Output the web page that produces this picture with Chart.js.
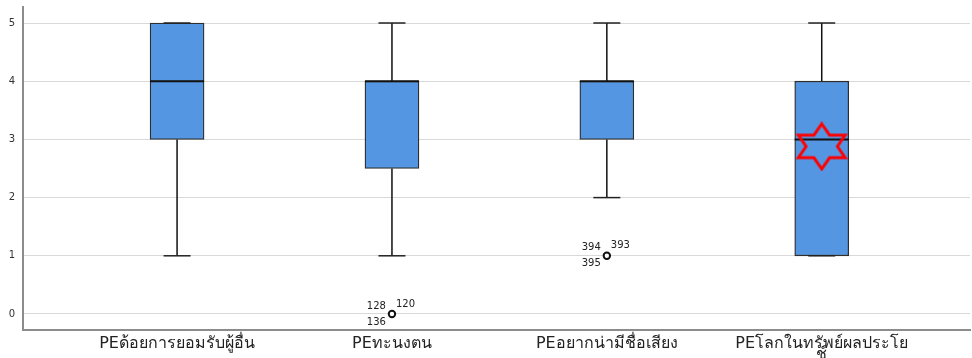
<!DOCTYPE html>
<html>
<head>
<meta charset="utf-8">
<script src="https://cdn.jsdelivr.net/npm/chart.js@4"></script>
<style>
    html, body { margin: 0; padding: 0; background: #ffffff; }
    #wrap { width: 972px; height: 358px; }
</style>
</head>
<body>
<div id="wrap"><canvas id="boxChart" width="972" height="358"></canvas></div>
<script>
const categories = [
    "PEด้อยการยอมรับผู้อื่น",
    "PEทะนงตน",
    "PEอยากน่ามีชื่อเสียง",
    ["PEโลกในทรัพย์ผลประโย", "ช์"],
];
const yTicks = [0, 1, 2, 3, 4, 5];
const q1 = [3, 2.5, 3, 1];
const q3 = [5, 4, 4, 4];
const medians = [4, 4, 4, 3];
const whiskerLow = [1, 1, 2, 1];
const whiskerHigh = [5, 5, 5, 5];
const outlierValues = [[], [0], [1], []];
const outlierIds = [[], ["128", "120", "136"], ["394", "393", "395"], []];
const starCategory = [4];
const starValue = [2.88];

const positions = categories.map((_, idx) => idx + 1);

function makeStar() {
    const c = document.createElement("canvas");
    c.width = 54;
    c.height = 50;
    const g = c.getContext("2d");
    const cx = 27, cy = 25, rx = 27, ry = 22.5;
    g.strokeStyle = "#ff0000";
    g.lineWidth = 3;
    g.lineJoin = "miter";
    g.beginPath();
    for (let i = 0; i < 12; i++) {
        const ang = -Math.PI / 2 + i * Math.PI / 6;
        const r = i % 2 === 0 ? 1 : 0.58;
        const px = cx + Math.cos(ang) * rx * r;
        const py = cy + Math.sin(ang) * ry * r;
        if (i === 0) g.moveTo(px, py); else g.lineTo(px, py);
    }
    g.closePath();
    g.stroke();
    return c;
}

const whiskerPoints = [];
positions.forEach((x, idx) => {
    whiskerPoints.push({ x, y: whiskerLow[idx] }, { x, y: q1[idx] }, { x, y: null });
    whiskerPoints.push({ x, y: q3[idx] }, { x, y: whiskerHigh[idx] }, { x, y: null });
});

const capPoints = [];
positions.forEach((x, idx) => {
    capPoints.push({ x, y: whiskerLow[idx] }, { x, y: whiskerHigh[idx] });
});

const outlierPoints = [];
positions.forEach((x, idx) => {
    outlierValues[idx].forEach((v) => outlierPoints.push({ x, y: v, ids: outlierIds[idx] }));
});

const outlierLabelPlugin = {
    id: "outlierLabels",
    afterDatasetsDraw(chart) {
        const { ctx, scales } = chart;
        ctx.save();
        ctx.font = "10px 'DejaVu Sans', Arial, sans-serif";
        ctx.fillStyle = "#222";
        ctx.textBaseline = "middle";
        for (const p of outlierPoints) {
            const px = scales.x.getPixelForValue(p.x);
            const py = scales.y.getPixelForValue(p.y);
            ctx.textAlign = "right";
            ctx.fillText(p.ids[0], px - 6, py - 8);
            ctx.fillText(p.ids[2], px - 6, py + 8);
            ctx.textAlign = "left";
            ctx.fillText(p.ids[1], px + 4, py - 10);
        }
        ctx.restore();
    },
};

new Chart(document.getElementById("boxChart").getContext("2d"), {
    type: "bar",
    data: {
        datasets: [
            {
                type: "bar",
                data: positions.map((x, idx) => ({ x, y: [q1[idx], q3[idx]] })),
                backgroundColor: "#5596e3",
                borderColor: "#2e2e2e",
                borderWidth: 1.3,
                borderSkipped: false,
                barThickness: 54,
                order: 5,
            },
            {
                type: "line",
                data: whiskerPoints,
                borderColor: "#111111",
                borderWidth: 1.5,
                pointRadius: 0,
                spanGaps: false,
                order: 4,
            },
            {
                type: "scatter",
                data: capPoints,
                pointStyle: "line",
                pointRadius: 13.5,
                borderColor: "#222222",
                borderWidth: 1.5,
                order: 3,
            },
            {
                type: "scatter",
                data: positions.map((x, idx) => ({ x, y: medians[idx] })),
                pointStyle: "line",
                pointRadius: 27,
                borderColor: "#111111",
                borderWidth: 2,
                order: 2,
            },
            {
                type: "scatter",
                data: outlierPoints,
                pointStyle: "circle",
                pointRadius: 3.2,
                backgroundColor: "#ffffff",
                borderColor: "#111111",
                borderWidth: 2,
                order: 1,
            },
            {
                type: "scatter",
                data: starCategory.map((x, idx) => ({ x, y: starValue[idx] })),
                pointStyle: makeStar(),
                order: 0,
            },
        ],
    },
    options: {
        responsive: false,
        animation: false,
        events: [],
        layout: { autoPadding: false, padding: { top: 7, right: 2, left: 0, bottom: 0 } },
        plugins: {
            legend: { display: false },
            tooltip: { enabled: false },
        },
        scales: {
            x: {
                type: "linear",
                min: 0.283,
                max: 4.69,
                offset: false,
                afterBuildTicks(scale) {
                    scale.ticks = positions.map((v) => ({ value: v }));
                },
                afterFit(scale) {
                    scale.height = 28;
                    scale.paddingLeft = 0;
                    scale.paddingRight = 0;
                },
                grid: { display: false, drawTicks: false },
                border: { display: true, color: "#8c8c8c", width: 2 },
                ticks: {
                    autoSkip: false,
                    maxRotation: 0,
                    padding: 9,
                    color: "#222222",
                    font: { family: "'DejaVu Sans', Arial, sans-serif", size: 16, lineHeight: 0.65 },
                    callback: (value) => categories[value - 1],
                },
            },
            y: {
                type: "linear",
                min: -0.275,
                max: 5.275,
                afterBuildTicks(scale) {
                    scale.ticks = yTicks.map((v) => ({ value: v }));
                },
                afterFit(scale) {
                    scale.width = 23;
                    scale.paddingTop = 0;
                    scale.paddingBottom = 0;
                },
                grid: { color: "#d9d9d9", lineWidth: 1, drawTicks: false },
                border: { display: true, color: "#8c8c8c", width: 2 },
                ticks: {
                    padding: 8,
                    color: "#333333",
                    font: { family: "'DejaVu Sans', Arial, sans-serif", size: 10 },
                },
            },
        },
    },
    plugins: [outlierLabelPlugin],
});
</script>
</body>
</html>
